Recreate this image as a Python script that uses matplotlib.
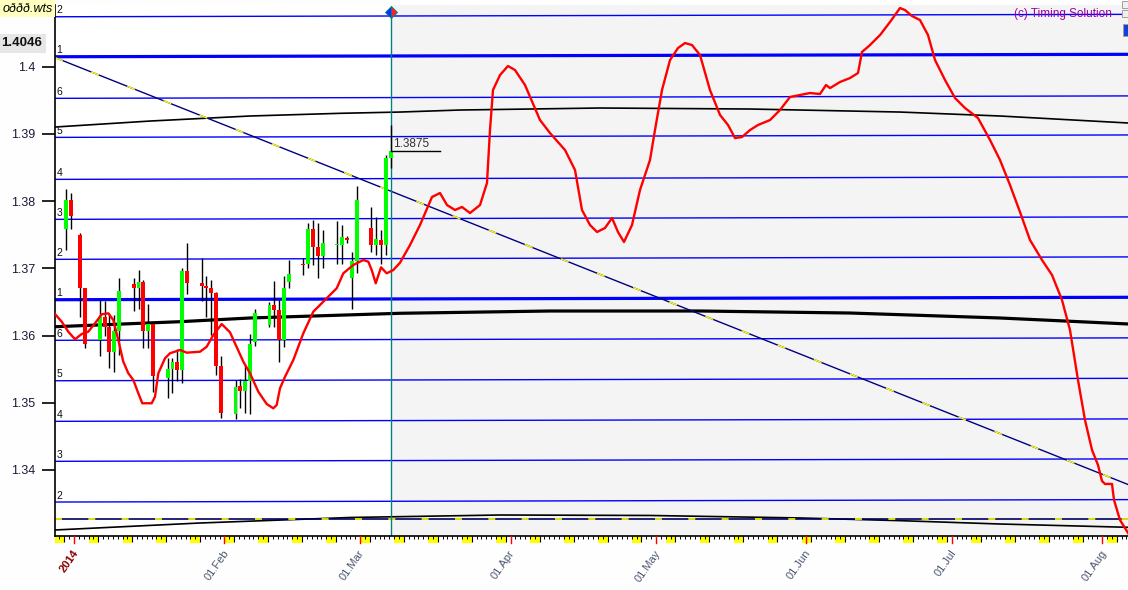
import matplotlib
matplotlib.use('Agg')
import matplotlib.pyplot as plt
from matplotlib.patches import Rectangle
import pandas as pd

plt.rcParams['font.family'] = ['Liberation Sans', 'DejaVu Sans']
plt.rcParams['lines.scale_dashes'] = False

BASE = pd.Timestamp('2014-01-01')

# ---------------- data ----------------
candle_dates = ['2013-12-30', '2013-12-31', '2014-01-02', '2014-01-03', '2014-01-06', '2014-01-07',
                '2014-01-08', '2014-01-09', '2014-01-10', '2014-01-13', '2014-01-14', '2014-01-15',
                '2014-01-16', '2014-01-17', '2014-01-20', '2014-01-21', '2014-01-22', '2014-01-23',
                '2014-01-24', '2014-01-27', '2014-01-28', '2014-01-29', '2014-01-30', '2014-01-31',
                '2014-02-03', '2014-02-04', '2014-02-05', '2014-02-06', '2014-02-07', '2014-02-10',
                '2014-02-11', '2014-02-12', '2014-02-13', '2014-02-14', '2014-02-17', '2014-02-18',
                '2014-02-19', '2014-02-20', '2014-02-21', '2014-02-24', '2014-02-25', '2014-02-26',
                '2014-02-27', '2014-02-28', '2014-03-03', '2014-03-04', '2014-03-05', '2014-03-06',
                '2014-03-07']
opens = [1.3758, 1.3802, 1.3749, 1.3671, 1.3593, 1.3628, 1.3613, 1.3576, 1.3607, 1.3677, 1.3671, 1.3680,
         1.3606, 1.3617, 1.3537, 1.3550, 1.3560, 1.3548, 1.3696, 1.3678, 1.3674, 1.3670, 1.3663, 1.3555,
         1.3483, 1.3525, 1.3517, 1.3533, 1.3591, 1.3616, 1.3645, 1.3638, 1.3594, 1.3680, 1.3707, 1.3707,
         1.3758, 1.3732, 1.3719, 1.3734, 1.3735, 1.3745, 1.3685, 1.3711, 1.3760, 1.3735, 1.3742, 1.3734,
         1.3864]
highs = [1.3818, 1.3812, 1.3752, 1.3671, 1.3653, 1.3652, 1.3633, 1.3630, 1.3685, 1.3685, 1.3698, 1.3683,
         1.3647, 1.3620, 1.3566, 1.3566, 1.3580, 1.3700, 1.3737, 1.3715, 1.3688, 1.3683, 1.3665, 1.3570,
         1.3534, 1.3536, 1.3556, 1.3603, 1.3640, 1.3650, 1.3681, 1.3653, 1.3688, 1.3712, 1.3715, 1.3768,
         1.3772, 1.3767, 1.3757, 1.3770, 1.3764, 1.3748, 1.3725, 1.3822, 1.3792, 1.3777, 1.3757, 1.3868,
         1.3913]
lows = [1.3727, 1.3759, 1.3628, 1.3581, 1.3570, 1.3600, 1.3552, 1.3546, 1.3571, 1.3636, 1.3640, 1.3581,
        1.3581, 1.3516, 1.3507, 1.3514, 1.3533, 1.3530, 1.3662, 1.3652, 1.3628, 1.3601, 1.3541, 1.3478,
        1.3476, 1.3492, 1.3484, 1.3483, 1.3585, 1.3613, 1.3612, 1.3561, 1.3583, 1.3670, 1.3690, 1.3700,
        1.3705, 1.3685, 1.3701, 1.3707, 1.3707, 1.3738, 1.3640, 1.3693, 1.3725, 1.3720, 1.3707, 1.3720,
        1.3850]
closes = [1.3802, 1.3778, 1.3671, 1.3588, 1.3627, 1.3613, 1.3576, 1.3606, 1.3667, 1.3671, 1.3680, 1.3606,
          1.3617, 1.3540, 1.3550, 1.3560, 1.3548, 1.3696, 1.3678, 1.3674, 1.3670, 1.3663, 1.3555, 1.3485,
          1.3524, 1.3517, 1.3533, 1.3588, 1.3633, 1.3645, 1.3638, 1.3594, 1.3671, 1.3691, 1.3705, 1.3758,
          1.3732, 1.3719, 1.3738, 1.3736, 1.3746, 1.3742, 1.3711, 1.3802, 1.3735, 1.3743, 1.3734, 1.3864,
          1.3875]

level_labels = ['2', '1', '6', '5', '4', '3', '2', '1', '6', '5', '4', '3', '2']
level_prices = [1.40744, 1.40149, 1.39530, 1.38949, 1.38324, 1.37729, 1.37134,
                1.36533, 1.35929, 1.35327, 1.34723, 1.34128, 1.33522]
level_drift = 0.00036

red_curve = [(-3.92, 1.36320), (-2.54, 1.36206), (-1.18, 1.36057), (0.21, 1.35944), (1.59, 1.36023),
             (2.95, 1.36057), (4.33, 1.36182), (5.71, 1.36316), (7.07, 1.36331), (8.10, 1.36231),
             (9.13, 1.35933), (10.16, 1.35611), (11.20, 1.35438), (12.23, 1.35338), (13.26, 1.35140),
             (14.08, 1.34992), (16.02, 1.34992), (16.70, 1.35090), (17.38, 1.35438), (18.76, 1.35661),
             (19.79, 1.35736), (21.86, 1.35785), (23.24, 1.35745), (25.98, 1.35759), (27.36, 1.35834),
             (28.72, 1.36008), (30.45, 1.36171), (32.16, 1.36048), (33.20, 1.35884), (34.91, 1.35611),
             (36.29, 1.35438), (38.00, 1.35164), (39.73, 1.34981), (41.09, 1.34917), (41.79, 1.34966),
             (42.47, 1.35215), (43.51, 1.35387), (45.22, 1.35636), (47.28, 1.36033), (49.34, 1.36355),
             (52.10, 1.36554), (54.16, 1.36703), (55.53, 1.36926), (57.59, 1.37050), (59.65, 1.37124),
             (60.68, 1.37099), (61.38, 1.36975), (62.21, 1.36777), (63.30, 1.37015), (64.47, 1.36926),
             (65.84, 1.36975), (67.22, 1.37084), (69.28, 1.37347), (71.34, 1.37645), (73.81, 1.38061),
             (75.46, 1.38121), (76.91, 1.37942), (78.56, 1.37868), (80.00, 1.37913), (81.65, 1.37823),
             (83.71, 1.37942), (85.15, 1.38270), (85.77, 1.39058), (86.39, 1.39654), (87.84, 1.39877),
             (89.48, 1.40011), (90.93, 1.39951), (92.99, 1.39728), (96.08, 1.39207), (98.14, 1.39014),
             (101.24, 1.38761), (103.30, 1.38463), (104.74, 1.37868), (106.39, 1.37645), (107.84, 1.37541),
             (109.48, 1.37600), (110.93, 1.37749), (112.16, 1.37541), (113.40, 1.37392), (115.05, 1.37645),
             (116.70, 1.38166), (118.76, 1.38612), (119.79, 1.39058), (121.24, 1.39654), (122.89, 1.40100),
             (124.54, 1.40279), (125.98, 1.40353), (127.42, 1.40323), (129.07, 1.40175), (131.13, 1.39654),
             (133.20, 1.39282), (134.85, 1.39133), (136.29, 1.38939), (137.73, 1.38954), (139.38, 1.39058),
             (141.03, 1.39133), (143.51, 1.39207), (145.57, 1.39356), (147.63, 1.39550), (149.69, 1.39579),
             (151.75, 1.39609), (153.81, 1.39594), (155.05, 1.39728), (155.88, 1.39683), (157.94, 1.39773),
             (160.00, 1.39832), (161.65, 1.39907), (162.47, 1.40219), (164.12, 1.40323), (166.19, 1.40472),
             (168.25, 1.40666), (170.31, 1.40874), (171.34, 1.40844), (172.78, 1.40755), (174.43, 1.40695),
             (176.08, 1.40472), (177.53, 1.40100), (179.59, 1.39803), (181.65, 1.39535), (183.71, 1.39386),
             (186.39, 1.39237), (188.87, 1.38910), (190.93, 1.38612), (192.99, 1.38240), (195.05, 1.37838),
             (197.11, 1.37422), (199.59, 1.37124), (201.65, 1.36901), (203.71, 1.36529), (205.36, 1.36082),
             (207.01, 1.35338), (208.45, 1.34743), (209.90, 1.34297), (211.13, 1.34073), (211.96, 1.33835),
             (212.58, 1.33791), (214.02, 1.33791), (214.43, 1.33553), (215.67, 1.33255), (217.32, 1.33062)]

upper_days = [-3.92, 15.67, 36.29, 54.85, 67.22, 79.59, 108.45, 139.38, 170.31, 190.93, 217.32]
upper_prices = [1.39103, 1.39192, 1.39267, 1.39307, 1.39326, 1.39356, 1.39386, 1.39371, 1.39326, 1.39267, 1.39163]
mid_days = [-3.92, 21.86, 36.29, 67.22, 98.14, 129.07, 160.00, 190.93, 217.32]
mid_prices = [1.36131, 1.36206, 1.36261, 1.36331, 1.36365, 1.36365, 1.36335, 1.36261, 1.36172]
low_days = [-3.92, 25.98, 56.91, 87.84, 118.76, 149.69, 170.31, 190.93, 217.32]
low_prices = [1.33106, 1.33210, 1.33292, 1.33329, 1.33322, 1.33285, 1.33245, 1.33195, 1.33146]

diag_days = [-3.92, 217.32]
diag_prices = [1.40137, 1.33783]
dashed_level = 1.33265

month_dates = ['2014-01-01', '2014-02-01', '2014-03-01', '2014-04-01', '2014-05-01',
               '2014-06-01', '2014-07-01', '2014-08-01']
month_labels = ['2014', '01.Feb', '01.Mar', '01.Apr', '01.May', '01.Jun', '01.Jul', '01.Aug']
yticks = [1.34, 1.35, 1.36, 1.37, 1.38, 1.39, 1.40]
ytick_labels = ['1.34', '1.35', '1.36', '1.37', '1.38', '1.39', '1.4']
last_close = 1.3875
cursor_text = '1.4046'
file_text = 'oððð.wts'
credit_text = '(c) Timing Solution'

# ---------------- figure ----------------
W, H = 1128, 590
fig = plt.figure(figsize=(W / 100, H / 100), dpi=100, facecolor='#fefefe')
ax = fig.add_axes([55 / W, 54.3 / H, 1073 / W, 530.7 / H])
ax.set_facecolor('white')
XMIN, XMAX = -3.92, 217.32
ax.set_xlim(XMIN, XMAX)
ax.set_ylim(1.33021, 1.40919)

def day(s):
    return (pd.Timestamp(s) - BASE).days

cdays = [day(d) + 0.3 for d in candle_dates]
now_x = cdays[-1]

# shaded forecast zone
ax.axvspan(now_x, XMAX, color='#f4f4f4', zorder=0, lw=0)

# levels
for lab, p in zip(level_labels, level_prices):
    lw = 2.3 if lab == '1' else 1.0
    ax.plot([XMIN, XMAX], [p, p + level_drift], color='#0000ff', lw=lw, zorder=2, solid_capstyle='butt')
    ax.text(XMIN + 0.35, p + 0.0002, lab, fontsize=7.5, color='#101010', va='bottom', ha='left', zorder=5)

# black cycle curves
ax.plot(upper_days, upper_prices, color='black', lw=1.2, zorder=2.2)
ax.plot(mid_days, mid_prices, color='black', lw=2.3, zorder=2.2)
ax.plot(low_days, low_prices, color='black', lw=1.2, zorder=2.2)

# dashed bottom level (navy with yellow dashes)
ax.plot([XMIN, XMAX], [dashed_level, dashed_level], color='#000060', lw=1.2, zorder=2.3)
ax.plot([XMIN, XMAX], [dashed_level, dashed_level], color='#ffff00', lw=1.2, zorder=2.35,
        dashes=(5, 19), dash_capstyle='butt')

# diagonal trend line
ax.plot(diag_days, diag_prices, color='#000080', lw=1.0, zorder=2.3)
ax.plot(diag_days, diag_prices, color='#ffff00', lw=1.0, zorder=2.35, dashes=(6, 22), dash_capstyle='butt')

# vertical "now" line
ax.axvline(now_x, color='#008080', lw=1.0, zorder=2.4, ymax=0.985)
ax.plot([now_x], [1.40814], marker='D', ms=6, fillstyle='left', markerfacecolor='#1030ff',
        markerfacecoloralt='#ff2020', markeredgecolor='#008080', markeredgewidth=0.6, zorder=6, clip_on=False)

# candles
bw = 0.8
for x, o, h, l, c in zip(cdays, opens, highs, lows, closes):
    ax.plot([x, x], [l, h], color='black', lw=1.0, zorder=3, solid_capstyle='butt')
    col = '#00ff00' if c >= o else '#ff0000'
    bot, top = min(o, c), max(o, c)
    if top - bot < 0.00008:
        bot, top = (o + c) / 2 - 0.00004, (o + c) / 2 + 0.00004
    ax.add_patch(Rectangle((x - bw / 2, bot), bw, top - bot, facecolor=col, edgecolor='none', zorder=3.2))

# last close marker
ax.plot([now_x, now_x + 10.2], [last_close, last_close], color='black', lw=1.0, zorder=4)
ax.text(now_x + 0.4, last_close + 0.0001, f'{last_close:.4f}', fontsize=8.5, color='#303030',
        va='bottom', ha='left', zorder=5)

# red forecast curve
rd, rp = zip(*red_curve)
ax.plot(rd, rp, color='#ff0000', lw=1.7, zorder=4, solid_joinstyle='round')

# axes styling
for s in ['top', 'right']:
    ax.spines[s].set_visible(False)
ax.spines['left'].set_linewidth(1.2)
ax.spines['bottom'].set_linewidth(1.2)
ax.set_yticks(yticks)
ax.set_yticklabels(ytick_labels)
ax.tick_params(axis='y', direction='out', length=9.5, width=1.2, labelsize=9,
               labelcolor='#1a1a3a', pad=4.5)

mondays = [d for d in range(-3, 218) if (d - 5) % 7 == 0]
ax.set_xticks(mondays)
ax.set_xticklabels([''] * len(mondays))
ax.set_xticks(list(range(-3, 218)), minor=True)
ax.tick_params(axis='x', which='major', direction='out', length=4.0, width=0.8)
ax.tick_params(axis='x', which='minor', direction='out', length=2.0, width=0.7)

xt = ax.get_xaxis_transform()
# weekend yellow blocks
for s in range(-4, 218, 7):
    x0 = max(s, XMIN)
    x1 = min(s + 2, XMAX)
    if x1 > x0:
        ax.add_patch(Rectangle((x0, -0.0135), x1 - x0, 0.0135, transform=xt, facecolor='#ffff00',
                               edgecolor='none', clip_on=False, zorder=1))
# month ticks and labels
for d, lab in zip(month_dates, month_labels):
    x = day(d)
    ax.plot([x, x], [0, -0.0135], transform=xt, color='#ff0000', lw=1.0, clip_on=False, zorder=3)
    if lab == '2014':
        ax.text(x + 1.3, -0.024, lab, transform=xt, rotation=55, ha='right', va='top', fontsize=8,
                color='#8b0000', fontweight='bold')
    else:
        ax.text(x + 1.3, -0.024, lab, transform=xt, rotation=55, ha='right', va='top', fontsize=8,
                color='#4a5670')

# figure texts
fig.patches.append(Rectangle((0, 1 - 17 / H), 55 / W, 17 / H, transform=fig.transFigure,
                             facecolor='#ffffc0', edgecolor='none', zorder=0))
fig.text(3 / W, 1 - 9 / H, file_text, fontsize=9, style='italic', va='center', ha='left', color='black')
fig.text(1 / W, 1 - 43.5 / H, cursor_text, fontsize=9.5, fontweight='bold', va='center', ha='left',
         color='#101010', bbox=dict(boxstyle='square,pad=0.3', facecolor='#e6e6e6', edgecolor='none'))
fig.text(1112 / W, 1 - 14 / H, credit_text, fontsize=8.5, va='center', ha='right', color='#a000a0')

# small scroll widgets on the right edge
for y0 in [0, 9]:
    fig.patches.append(Rectangle((1122 / W, 1 - (y0 + 8) / H), 6 / W, 7 / H, transform=fig.transFigure,
                                 facecolor='#f0f0f0', edgecolor='#a0a0a0', lw=0.7))
fig.patches.append(Rectangle((1123 / W, 1 - 36 / H), 5 / W, 12 / H, transform=fig.transFigure,
                             facecolor='#1040e0', edgecolor='#a0a0a0', lw=0.7))

fig.savefig('out.png', dpi=100, facecolor=fig.get_facecolor())
